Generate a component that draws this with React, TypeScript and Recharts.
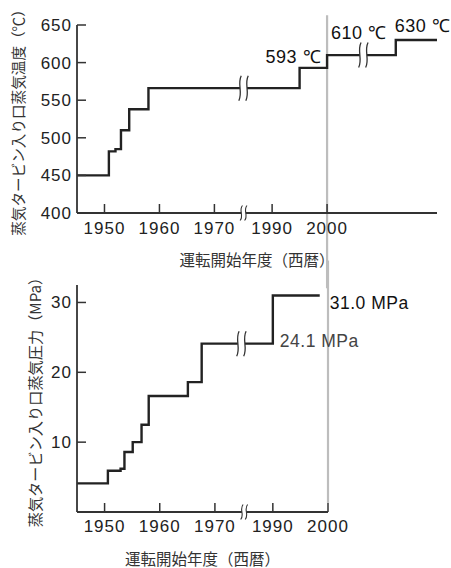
import { LineChart, Line, XAxis, YAxis, ReferenceLine, ReferenceDot } from "recharts"

// x axis has breaks: years are squeezed onto one numeric axis
const tickYears = [1950, 1960, 1970, 1990, 2000]

const tempYears = [1945, 1950.8, 1952, 1953, 1954.5, 1958, 1995, 2000, 2020, 2027.5]
const tempValues = [450, 482, 485, 510, 538, 566, 593, 610, 630, 630]
const tempTicks = [400, 450, 500, 550, 600, 650]

const pressYears = [1945, 1950.6, 1952.9, 1953.6, 1955.1, 1956.7, 1958, 1965.1, 1967.6, 1990, 1998.5]
const pressValues = [4.1, 5.9, 6.2, 8.6, 10, 12.5, 16.6, 18.6, 24.1, 31, 31]
const pressTicks = [10, 20, 30]

// break marks, in axis units
const axisBreak = 1975.3
const tempLineBreaks = [
  { at: 1975.3, value: 566 },
  { at: 1997.1, value: 610 },
]
const pressLineBreak = { at: 1974.8, value: 24.1 }

function toAxis(year: number) {
  if (year >= 2014) return year - 17
  if (year >= 1985) return year - 9.5
  return year
}

const tickAxis = tickYears.map(toAxis)
const fmtYear = (v: number) => String(tickYears[tickAxis.indexOf(v)] ?? v)

const tempData = tempYears.map((y, i) => ({ x: toAxis(y), v: tempValues[i] }))
const pressData = pressYears.map((y, i) => ({ x: toAxis(y), v: pressValues[i] }))

const INK = "#222"
const AXIS = "#333"
const GREY = "#bdbdbd"
const JP = "'Noto Sans CJK JP', sans-serif"
const NUM = "'Liberation Sans', Arial, sans-serif"
const tickStyle = { fontFamily: NUM, fontSize: 17, fill: INK, letterSpacing: 1 }

function BreakMark({ cx, cy, h, gap, w = 1.3 }: any) {
  const half = h / 2
  const curve = (x: number) =>
    `M${x + 1.2},${cy - half} C${x - 3},${cy - half / 3} ${x + 3},${cy + half / 3} ${x - 1.2},${cy + half}`
  return (
    <g>
      <rect x={cx - gap / 2} y={cy - 3} width={gap} height={6} fill="#fff" />
      <path d={curve(cx - gap / 2)} fill="none" stroke={AXIS} strokeWidth={w} />
      <path d={curve(cx + gap / 2)} fill="none" stroke={AXIS} strokeWidth={w} />
    </g>
  )
}

function Note({ cx, cy, text, dx, dy, anchor = "start", color = "#111", size = 18 }: any) {
  return (
    <text x={cx + dx} y={cy + dy} textAnchor={anchor} dominantBaseline="central"
      fontFamily={NUM} fontSize={size} fill={color} letterSpacing={0.5}>
      {text}
    </text>
  )
}

function yTitle(text: string, dx: number, dy: number, size: number) {
  return (props: any) => {
    const vb = props.viewBox
    const x = vb.x + dx
    const y = vb.y + vb.height / 2 + dy
    return (
      <text x={x} y={y} transform={`rotate(-90 ${x} ${y})`} textAnchor="middle"
        dominantBaseline="central" fontFamily={JP} fontSize={size} fill={AXIS}>
        {text}
      </text>
    )
  }
}

function xTitle(text: string, dy: number) {
  return (props: any) => {
    const vb = props.viewBox
    return (
      <text x={vb.x + vb.width / 2} y={vb.y + dy} textAnchor="middle" dominantBaseline="central"
        fontFamily={JP} fontSize={15.5} fill={AXIS}>
        {text}
      </text>
    )
  }
}

export default function App() {
  return (
    <div style={{ position: "absolute", left: 0, top: 0, width: 451, height: 568, background: "#fff" }}>
      <style>{`.recharts-surface { overflow: visible; }`}</style>

      <div style={{ position: "absolute", left: 0, top: 0 }}>
        <LineChart width={451} height={275} data={tempData} margin={{ top: 25, right: 14, bottom: 0, left: 0 }}>
          <XAxis dataKey="x" type="number" domain={[1945, 2010.5]} ticks={tickAxis} interval={0}
            tickFormatter={fmtYear} height={62} tickSize={-9} tickMargin={18}
            axisLine={{ stroke: AXIS, strokeWidth: 1.8 }} tickLine={{ stroke: AXIS, strokeWidth: 1.5 }}
            tick={tickStyle} label={xTitle("運転開始年度（西暦）", 46)} />
          <YAxis type="number" domain={[400, 650]} ticks={tempTicks} interval={0} width={77}
            tickSize={-9} tickMargin={14}
            axisLine={{ stroke: AXIS, strokeWidth: 1.8 }} tickLine={{ stroke: AXIS, strokeWidth: 1.5 }}
            tick={tickStyle} label={yTitle("蒸気タービン入り口蒸気温度（℃）", 17, 0, 14.6)} />
          <ReferenceLine ifOverflow="visible" stroke={GREY} strokeWidth={2.2}
            segment={[{ x: toAxis(2000), y: 663 }, { x: toAxis(2000), y: 300 }]} />
          <Line type="stepAfter" dataKey="v" stroke={INK} strokeWidth={2.4} dot={false}
            isAnimationActive={false} />
          {tempLineBreaks.map((b) => (
            <ReferenceDot key={b.at} x={b.at} y={b.value} ifOverflow="visible"
              shape={(p: any) => <BreakMark cx={p.cx} cy={p.cy} h={25} gap={7} />} />
          ))}
          <ReferenceDot x={axisBreak} y={400} ifOverflow="visible"
            shape={(p: any) => <BreakMark cx={p.cx} cy={p.cy} h={15} gap={4.5} w={1.1} />} />
          <ReferenceDot x={toAxis(2000)} y={593} ifOverflow="visible"
            shape={(p: any) => <Note cx={p.cx} cy={p.cy} text="593 ℃" dx={-6} dy={-11} anchor="end" />} />
          <ReferenceDot x={toAxis(2000)} y={610} ifOverflow="visible"
            shape={(p: any) => <Note cx={p.cx} cy={p.cy} text="610 ℃" dx={4} dy={-22} />} />
          <ReferenceDot x={toAxis(2020)} y={630} ifOverflow="visible"
            shape={(p: any) => <Note cx={p.cx} cy={p.cy} text="630 ℃" dx={-1} dy={-14} />} />
        </LineChart>
      </div>

      <div style={{ position: "absolute", left: 0, top: 270 }}>
        <LineChart width={451} height={298} data={pressData} margin={{ top: 15, right: 123, bottom: 0, left: 0 }}>
          <XAxis dataKey="x" type="number" domain={[1945, 1990.5]} ticks={tickAxis} interval={0}
            tickFormatter={fmtYear} height={56} tickSize={-9} tickMargin={17}
            axisLine={{ stroke: AXIS, strokeWidth: 1.8 }} tickLine={{ stroke: AXIS, strokeWidth: 1.5 }}
            tick={tickStyle} label={xTitle("運転開始年度（西暦）", 46)} />
          <YAxis type="number" domain={[0, 32.5]} ticks={pressTicks} interval={0} width={77}
            tickSize={-9} tickMargin={14}
            axisLine={{ stroke: AXIS, strokeWidth: 1.8 }} tickLine={{ stroke: AXIS, strokeWidth: 1.5 }}
            tick={tickStyle} label={yTitle("蒸気タービン入り口蒸気圧力（MPa）", 34, 0, 15.2)} />
          <ReferenceLine ifOverflow="visible" stroke={GREY} strokeWidth={2.2}
            segment={[{ x: toAxis(2000), y: 36 }, { x: toAxis(2000), y: 1.3 }]} />
          <Line type="stepAfter" dataKey="v" stroke={INK} strokeWidth={2.4} dot={false}
            isAnimationActive={false} />
          <ReferenceDot x={pressLineBreak.at} y={pressLineBreak.value} ifOverflow="visible"
            shape={(p: any) => <BreakMark cx={p.cx} cy={p.cy} h={25} gap={7} />} />
          <ReferenceDot x={axisBreak} y={0} ifOverflow="visible"
            shape={(p: any) => <BreakMark cx={p.cx} cy={p.cy} h={15} gap={4.5} w={1.1} />} />
          <ReferenceDot x={toAxis(1998.5)} y={31} ifOverflow="visible"
            shape={(p: any) => <Note cx={p.cx} cy={p.cy} text="31.0 MPa" dx={10} dy={8} size={17.5} />} />
          <ReferenceDot x={toAxis(1990)} y={24.1} ifOverflow="visible"
            shape={(p: any) => <Note cx={p.cx} cy={p.cy} text="24.1 MPa" dx={7} dy={-3} size={17.5} color="#444" />} />
        </LineChart>
      </div>
    </div>
  )
}
